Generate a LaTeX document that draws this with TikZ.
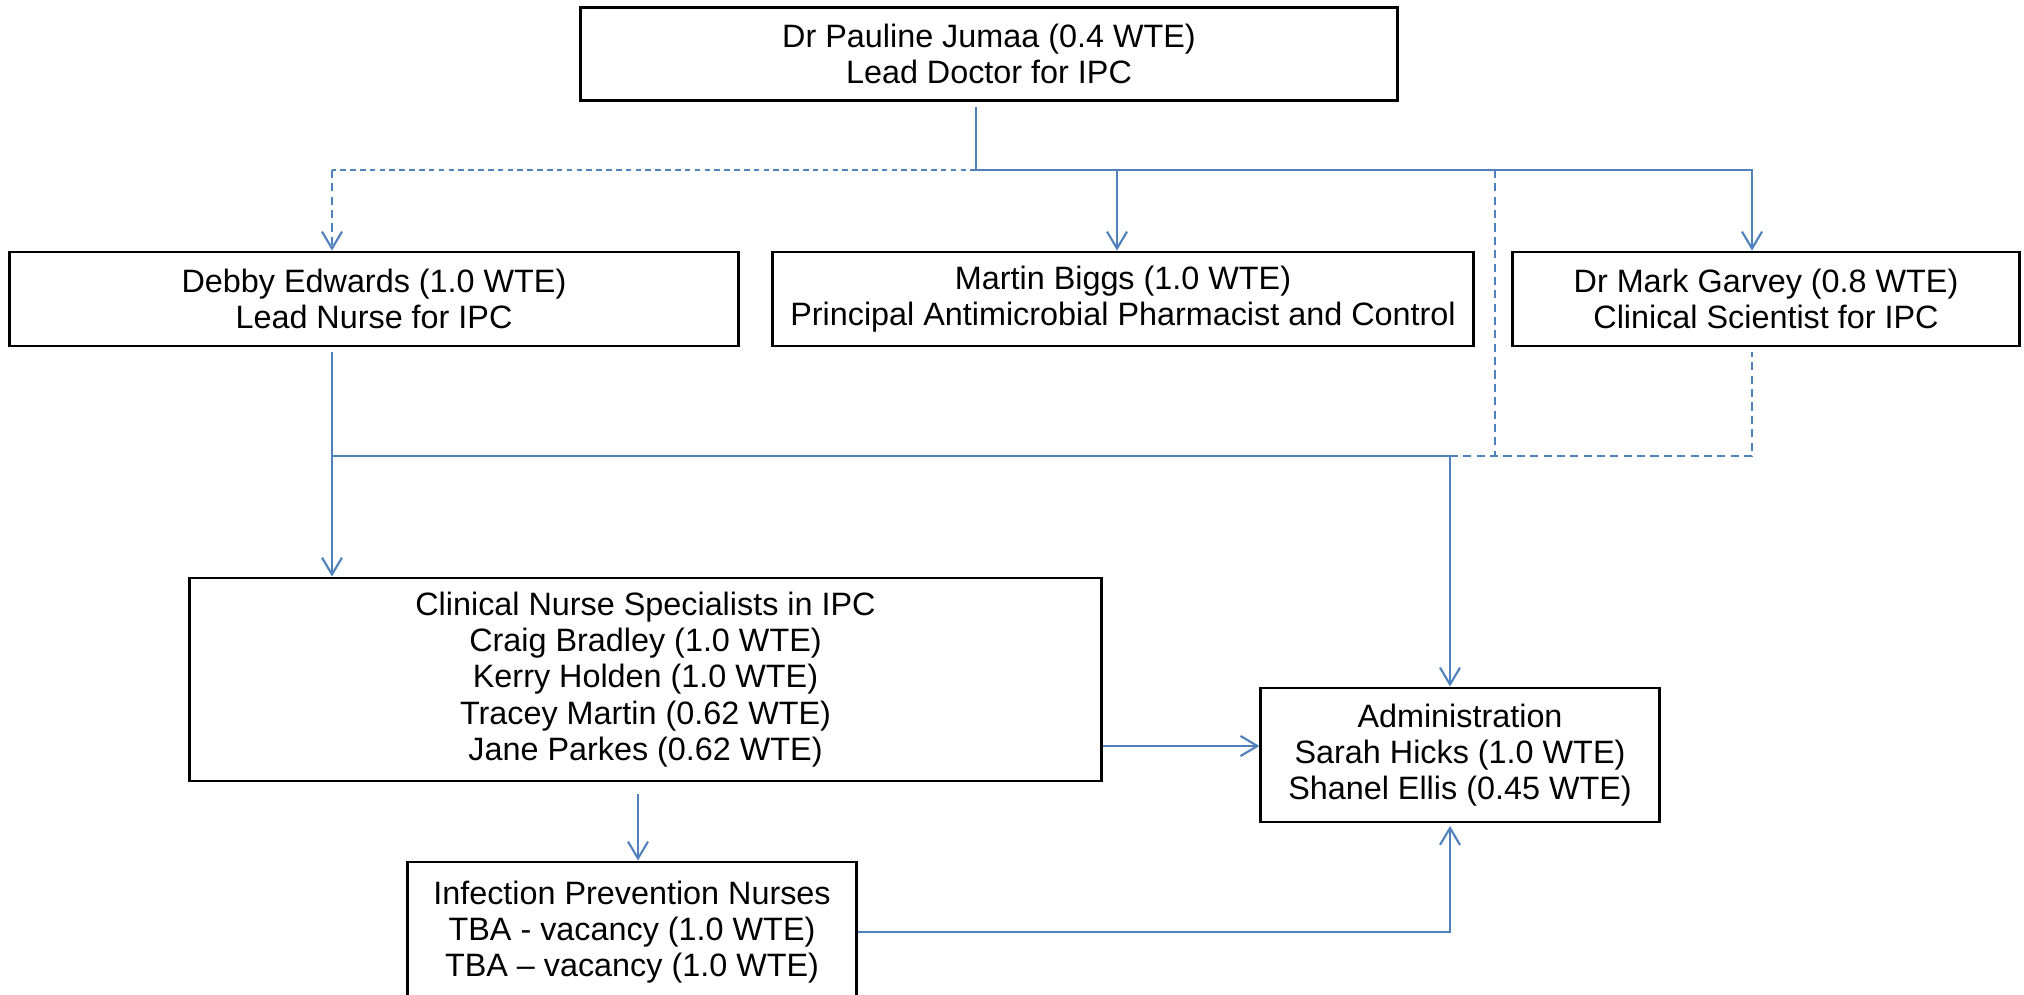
\documentclass[tikz,border=0pt]{standalone}
\usepackage{fontspec}
\setmainfont{Liberation Sans}
\usetikzlibrary{arrows.meta}
\definecolor{linkblue}{HTML}{4F81BD}
\tikzset{
  box/.style={draw, line width=0.8pt, align=center, inner sep=0pt,
    font=\fontsize{9.2}{10.3}\selectfont},
  link/.style={draw=linkblue, line width=0.6pt},
  dotlink/.style={link, dash pattern=on 2.3pt off 1.5pt},
  >={Straight Barb[length=4.8pt,width=5.7pt]}
}
\begin{document}
\begin{tikzpicture}[x=0.01cm, y=-0.01cm]
\useasboundingbox (0,0) rectangle (2024,995);

\node[box, minimum width=8.16cm, minimum height=0.93cm] (lead) at (989,54)
  {Dr Pauline Jumaa (0.4 WTE)\\Lead Doctor for IPC};
\node[box, minimum width=7.28cm, minimum height=0.94cm] (nurse) at (374,299)
  {Debby Edwards (1.0 WTE)\\Lead Nurse for IPC};
\node[box, minimum width=7.00cm, minimum height=0.94cm] (pharm) at (1123,299)
  {Martin Biggs (1.0 WTE)\\Principal Antimicrobial Pharmacist and Control};
\node[box, minimum width=5.06cm, minimum height=0.94cm] (sci) at (1766,299)
  {Dr Mark Garvey (0.8 WTE)\\Clinical Scientist for IPC};
\node[box, minimum width=9.11cm, minimum height=2.03cm] (cns) at (645.5,679.5)
  {Clinical Nurse Specialists in IPC\\Craig Bradley (1.0 WTE)\\Kerry Holden (1.0 WTE)\\Tracey Martin (0.62 WTE)\\Jane Parkes (0.62 WTE)};
\node[box, minimum width=3.98cm, minimum height=1.34cm] (admin) at (1460,755)
  {Administration\\Sarah Hicks (1.0 WTE)\\Shanel Ellis (0.45 WTE)};
\node[box, minimum width=4.48cm, minimum height=1.40cm] (ipn) at (632,932)
  {Infection Prevention Nurses\\TBA - vacancy (1.0 WTE)\\TBA -- vacancy (1.0 WTE)};

% junctions
\coordinate (top) at (976,170);
\coordinate (mid) at (1450,456);

% from the lead doctor
\draw[link] (976,107) -- (top);
\draw[dotlink, dash pattern=on 1.6pt off 1.2pt] (top) -- (332,170);
\draw[dotlink, ->] (332,170) -- (nurse.north -| 332,0);
\draw[link, ->] (top) -| (sci.north -| 1752,0);
\draw[link, ->] (1117,170) -- (pharm.north -| 1117,0);
\draw[dotlink] (1495,170) -- (1495,456);

% to the nurse specialists and admin
\draw[link, ->] (332,352) -- (cns.north -| 332,0);
\draw[link] (332,456) -- (mid);
\draw[link, ->] (mid) -- (admin.north -| mid);
\draw[dotlink] (mid) -| (1752,352);
\draw[link, ->] (cns.east |- 0,746) -- (admin.west |- 0,746);
\draw[link, ->] (638,794) -- (ipn.north -| 638,0);
\draw[link, ->] (ipn.east) -| (1450,826);
\end{tikzpicture}
\end{document}
